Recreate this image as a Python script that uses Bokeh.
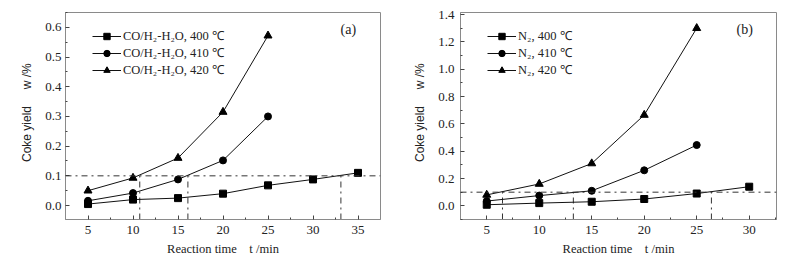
from bokeh.plotting import figure
from bokeh.layouts import row
from bokeh.models import Span, Label, FixedTicker, Legend, LegendItem, NumeralTickFormatter
from bokeh.embed import file_html
from bokeh.resources import INLINE

# ---- Panel (a): CO/H2-H2O ----
a_t400 = [5, 10, 15, 20, 25, 30, 35]
a_y400 = [0.005, 0.02, 0.025, 0.04, 0.068, 0.088, 0.11]
a_t410 = [5, 10, 15, 20, 25]
a_y410 = [0.016, 0.042, 0.088, 0.152, 0.30]
a_t420 = [5, 10, 15, 20, 25]
a_y420 = [0.05, 0.093, 0.16, 0.315, 0.572]
a_names = ["CO/H₂-H₂O, 400 ℃", "CO/H₂-H₂O, 410 ℃", "CO/H₂-H₂O, 420 ℃"]
a_threshold = 0.1
a_cross_t = [10.75, 16.1, 33.1]
a_xticks = [5, 10, 15, 20, 25, 30, 35]
a_yticks = [0.0, 0.1, 0.2, 0.3, 0.4, 0.5, 0.6]

# ---- Panel (b): N2 ----
b_t400 = [5, 10, 15, 20, 25, 30]
b_y400 = [0.008, 0.02, 0.03, 0.05, 0.09, 0.14]
b_t410 = [5, 10, 15, 20, 25]
b_y410 = [0.035, 0.075, 0.11, 0.26, 0.445]
b_t420 = [5, 10, 15, 20, 25]
b_y420 = [0.08, 0.16, 0.31, 0.665, 1.30]
b_names = ["N₂, 400 ℃", "N₂, 410 ℃", "N₂, 420 ℃"]
b_threshold = 0.1
b_cross_t = [6.5, 13.25, 26.4]
b_xticks = [5, 10, 15, 20, 25, 30]
b_yticks = [0.0, 0.2, 0.4, 0.6, 0.8, 1.0, 1.2, 1.4]

x_title = "Reaction time\u00a0\u00a0\u00a0\u00a0t /min"
y_title = "\u00a0\u00a0Coke yield\u00a0\u00a0\u00a0\u00a0\u00a0w /%"

SERIF = "Liberation Serif"
SANS = "Liberation Sans"
FRAME = "#8a8a8a"
TXT = "#222222"


def make_panel(width, border_left, border_right, xr, yr, xticks, yticks,
               xminor, yminor, series, names, thr, cross, tag, ystand):
    p = figure(width=width, height=260, x_range=xr, y_range=yr,
               output_backend="svg", toolbar_location=None,
               min_border_left=border_left, min_border_right=border_right,
               min_border_top=12, min_border_bottom=41)
    p.grid.visible = False
    p.outline_line_color = FRAME
    p.outline_line_width = 1
    for ax in (p.xaxis[0], p.yaxis[0]):
        ax.axis_line_color = FRAME
        ax.major_tick_line_color = "#444444"
        ax.minor_tick_line_color = "#444444"
        ax.major_tick_in = 4
        ax.major_tick_out = 0
        ax.minor_tick_in = 2
        ax.minor_tick_out = 0
        ax.major_label_text_font = SERIF
        ax.major_label_text_font_size = "13px"
        ax.major_label_text_color = TXT
        ax.axis_label_text_color = TXT
        ax.axis_label_text_font_style = "normal"
    p.xaxis.ticker = FixedTicker(ticks=xticks, minor_ticks=xminor)
    p.yaxis.ticker = FixedTicker(ticks=yticks, minor_ticks=yminor)
    p.yaxis.formatter = NumeralTickFormatter(format="0.0")
    p.xaxis.major_label_standoff = 6
    p.yaxis.major_label_standoff = ystand

    p.xaxis.axis_label = x_title
    p.xaxis.axis_label_text_font = SERIF
    p.xaxis.axis_label_text_font_size = "12.5px"
    p.xaxis.axis_label_standoff = 5
    p.yaxis.axis_label = y_title
    p.yaxis.axis_label_text_font = SANS
    p.yaxis.axis_label_text_font_size = "12px"
    p.yaxis.axis_label_standoff = 8

    # reference lines
    p.add_layout(Span(location=thr, dimension="width", line_color="#333333",
                      line_width=1, line_dash="dashdot"))
    y0 = yr[0]
    for c in cross:
        p.line([c, c], [y0, thr], line_color="#333333", line_width=1,
               line_dash="dashdot")

    items = []
    markers = ["square", "circle", "triangle"]
    sizes = [7, 7, 8]
    for (xs, ys), name, m, s in zip(series, names, markers, sizes):
        l = p.line(xs, ys, line_color="#111111", line_width=1)
        r = p.scatter(xs, ys, marker=m, size=s, fill_color="#000000",
                      line_color="#000000")
        items.append(LegendItem(label=name, renderers=[l, r]))
    leg = Legend(items=items, location=(27, 141))
    leg.border_line_color = None
    leg.background_fill_alpha = 0
    leg.label_text_font = SERIF
    leg.label_text_font_size = "12.5px"
    leg.label_text_color = TXT
    leg.glyph_width = 29
    leg.glyph_height = 16
    leg.label_height = 16
    leg.spacing = 0
    leg.padding = 0
    leg.margin = 0
    leg.label_standoff = 2
    p.add_layout(leg)

    p.add_layout(Label(x=xr[1], y=yr[1], text=tag, x_offset=-40, y_offset=-24,
                       text_font=SERIF, text_font_size="14px",
                       text_color=TXT))
    return p


pa = make_panel(400, 65, 20, (2.5, 37.5), (-0.047, 0.65), a_xticks, a_yticks,
                [7.5, 12.5, 17.5, 22.5, 27.5, 32.5],
                [-0.05, 0.05, 0.15, 0.25, 0.35, 0.45, 0.55, 0.65],
                [(a_t400, a_y400), (a_t410, a_y410), (a_t420, a_y420)],
                a_names, a_threshold, a_cross_t, "(a)", 4)
pb = make_panel(393, 60, 17, (2.5, 32.6), (-0.1, 1.415), b_xticks, b_yticks,
                [7.5, 12.5, 17.5, 22.5, 27.5, 32.5],
                [-0.1, 0.1, 0.3, 0.5, 0.7, 0.9, 1.1, 1.3],
                [(b_t400, b_y400), (b_t410, b_y410), (b_t420, b_y420)],
                b_names, b_threshold, b_cross_t, "(b)", 6)

layout = row(pa, pb)
open("out.html", "w").write(file_html(layout, INLINE))
